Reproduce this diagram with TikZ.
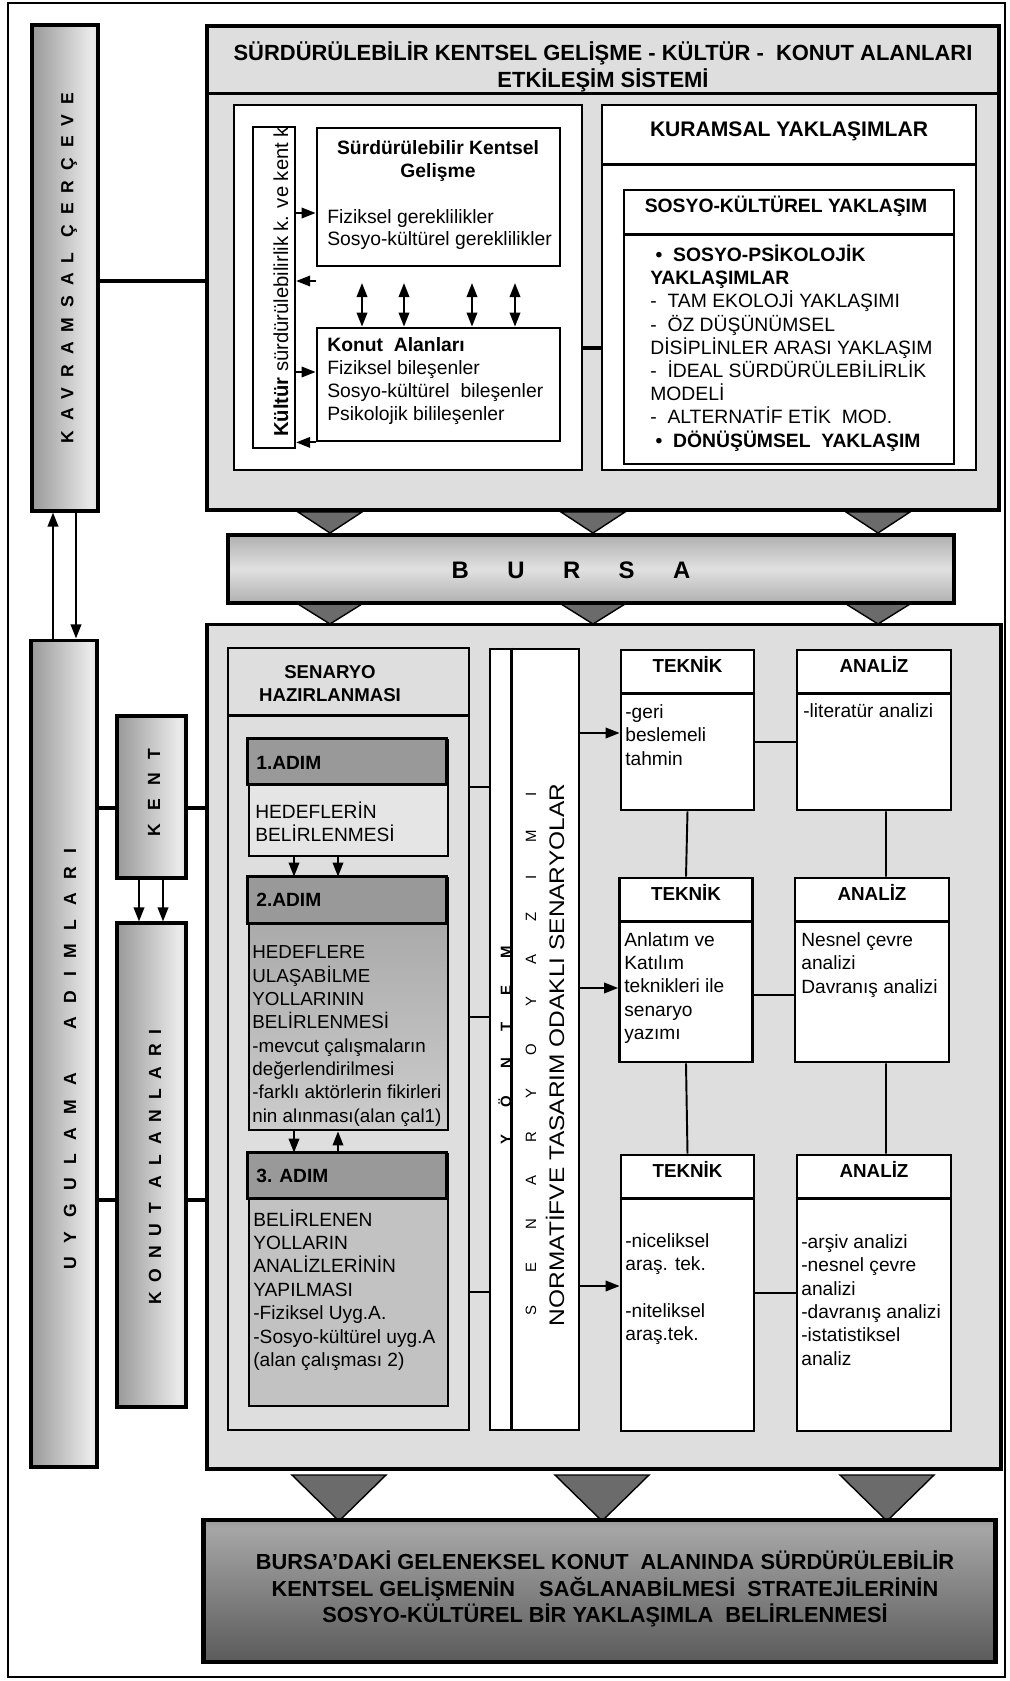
\documentclass[tikz,border=0pt]{standalone}
\usepackage{fontspec}
\setmainfont{Liberation Sans}
\usetikzlibrary{arrows.meta,positioning}

\pgfdeclarehorizontalshading{barshade}{100bp}{color(0bp)=(black!58); color(70bp)=(black!8); color(100bp)=(black!30)}
\pgfdeclareverticalshading{bursashade}{100bp}{color(0bp)=(black!50); color(50bp)=(black!12); color(100bp)=(black!50)}
\pgfdeclareverticalshading{sonucshade}{100bp}{color(0bp)=(black!80); color(72bp)=(black!35); color(100bp)=(black!72)}

\tikzset{
  panel/.style={draw, line width=1.8pt, fill=black!13, inner sep=0pt},
  whitebox/.style={draw, line width=1.6pt, fill=white, inner sep=0pt},
  bar/.style={draw, line width=1.8pt, shading=barshade, shade, inner sep=0pt},
  stepbox/.style={draw, line width=1.6pt, inner sep=0pt},
  divider/.style={draw, line width=1.6pt},
  link/.style={line width=1.1pt},
  tri/.style={draw, line width=0.8pt, fill=black!58},
  txt/.style={inner sep=0pt, align=left, font=\fontsize{10.9}{13.3}\selectfont},
  hdr/.style={inner sep=0pt, font=\fontsize{10.7}{13}\bfseries},
  bartext/.style={inner sep=0pt, rotate=90, font={\fontsize{10}{12}\bfseries\addfontfeatures{LetterSpace=#1}}},
  bartext/.default=57
}

\begin{document}
\begin{tikzpicture}[x=0.02cm, y=-0.02cm, >={Triangle[length=8pt,width=6pt]}]

\useasboundingbox (0,0) rectangle (1009,1681);

% levels of the connectors
\coordinate (kv) at (0,281);
\coordinate (ik) at (0,348);
\coordinate (ka1) at (0,213);
\coordinate (ka2) at (0,281);
\coordinate (ka3) at (0,372);
\coordinate (ku1) at (53,0);
\coordinate (ku2) at (76,0);
\coordinate (uk) at (0,808);
\coordinate (ua) at (0,1200);
\coordinate (kk1) at (139,0);
\coordinate (kk2) at (163,0);
\coordinate (ax1) at (294,0);
\coordinate (ax2) at (338,0);
\coordinate (sy1) at (0,787);
\coordinate (sy2) at (0,1017);
\coordinate (sy3) at (0,1292);
\coordinate (yt1) at (0,733);
\coordinate (yt2) at (0,988);
\coordinate (yt3) at (0,1286);
\coordinate (ta1) at (0,742);
\coordinate (ta2) at (0,995);
\coordinate (ta3) at (0,1293);

\path[draw, line width=0.8pt] (8,3) rectangle (1005,1677);

% kavramsal cerceve
\node[bar, minimum width=1.32cm, minimum height=9.72cm] (kavram) at (65,268) {};
\node[bartext=57] (kavramtxt) at (69,268) {KAVRAMSAL ÇERÇEVE};

\node[panel, minimum width=15.84cm, minimum height=9.68cm] (top) at (603,268) {};
\path[divider, line width=1.8pt] (top.north west) ++(0,69) -- ++(792,0);
\node[inner sep=0pt, align=center, font=\fontsize{12.5}{15.6}\bfseries] (title) at (603,67)
  {SÜRDÜRÜLEBİLİR KENTSEL GELİŞME - KÜLTÜR -\ \ KONUT ALANLARI\\ETKİLEŞİM SİSTEMİ};

\node[whitebox, minimum width=6.96cm, minimum height=7.30cm] (ileft) at (408,287.5) {};
\node[whitebox, line width=1.3pt, minimum width=0.84cm, minimum height=6.42cm] (kultur) at (274,287.5) {};
\node[whitebox, minimum width=4.86cm, minimum height=2.76cm] (skg) at (438.5,197) {};
\node[whitebox, minimum width=4.86cm, minimum height=2.26cm] (konut) at (438.5,384.5) {};

\begin{scope}
  \clip (kultur.south west) rectangle (kultur.north east);
  \node[inner sep=0pt, rotate=90, anchor=base west, font=\fontsize{11.5}{13}\selectfont] (kulturtxt) at (288,437)
    {\textbf{Kültür} sürdürülebilirlik k. ve kent k};
\end{scope}

\node[inner sep=0pt, align=center, font=\fontsize{11}{13}\bfseries] (skgtxt) at (438,161) {Sürdürülebilir Kentsel\\Gelişme};
\node[txt, font=\fontsize{11}{13}\selectfont, anchor=west] (skgreq) at (327,229.5) {Fiziksel gereklilikler\\Sosyo-kültürel gereklilikler};
\node[txt, font=\fontsize{11}{13.2}\selectfont, anchor=west] (konuttxt) at (327,381)
  {\textbf{Konut\ \ Alanları}\\Fiziksel bileşenler\\Sosyo-kültürel\ \ bileşenler\\Psikolojik bilileşenler};

\path[draw, link, ->] (kultur.east |- ka1) -- (skg.west |- ka1);
\path[draw, link, <-] (kultur.east |- ka2) -- (skg.west |- ka2);
\path[draw, link, ->] (kultur.east |- ka3) -- (konut.west |- ka3);
\path[draw, link, <-] (kultur.east |- konut.south west) -- (konut.south west);
\foreach \x in {362,404,472,515} {
  \coordinate (dtop) at (\x,283);
  \path[draw, link, <->] (dtop) -- (dtop |- konut.north);
}

% kuramsal yaklasimlar
\node[whitebox, minimum width=7.48cm, minimum height=7.30cm] (kuram) at (789,287.5) {};
\path[divider] (kuram.north west) ++(0,61) -- ++(374,0);
\node[whitebox, minimum width=6.60cm, minimum height=5.48cm] (sosyo) at (789,327) {};
\path[divider] (sosyo.north west) ++(0,46) -- ++(330,0);
\node[inner sep=0pt, font=\fontsize{12}{14}\bfseries] (kuramtxt) at (789,131) {KURAMSAL YAKLAŞIMLAR};
\node[inner sep=0pt, font=\fontsize{11}{13}\bfseries] (sosyotxt) at (786,206) {SOSYO-KÜLTÜREL YAKLAŞIM};
\node[txt, font=\fontsize{11}{13.2}\selectfont, anchor=west] (yaklasim) at (650,348)
  {\textbf{\ •\ \ SOSYO-PSİKOLOJİK}\\\textbf{YAKLAŞIMLAR}\\-\ \ TAM EKOLOJİ YAKLAŞIMI\\-\ \ ÖZ DÜŞÜNÜMSEL\\DİSİPLİNLER ARASI YAKLAŞIM\\-\ \ İDEAL SÜRDÜRÜLEBİLİRLİK\\MODELİ\\-\ \ ALTERNATİF ETİK\ \ MOD.\\\textbf{\ •\ \ DÖNÜŞÜMSEL\ \ YAKLAŞIM}};

\path[draw, link, line width=1.8pt] (kavram.east |- kv) -- (top.west |- kv);
\path[draw, link, line width=1.8pt] (ileft.east |- ik) -- (kuram.west |- ik);

% bursa
\foreach \x in {330,593,878} {
  \path[tri] (\x-32,512) -- (\x+32,512) -- (\x,533) -- cycle;
  \path[tri] (\x-32,604) -- (\x+32,604) -- (\x,624) -- cycle;
}
\node[draw, line width=1.8pt, shading=bursashade, shade, inner sep=0pt, minimum width=14.52cm, minimum height=1.36cm] (bursa) at (591,569) {};
\node[inner sep=0pt, font={\fontsize{13.6}{16}\bfseries\addfontfeatures{LetterSpace=161}}] (bursatxt) at (571,570) {BURSA};

% uygulama adimlari
\node[bar, minimum width=1.32cm, minimum height=16.54cm] (uyg) at (64,1053.5) {};
\node[bartext=77] (uygtxt) at (70,1059) {UYGULAMA\hspace{25pt}ADIMLARI};
\node[bar, minimum width=1.38cm, minimum height=3.24cm] (kent) at (151.5,797) {};
\node[bartext=76] (kenttxt) at (154,793) {KENT};
\node[bar, minimum width=1.38cm, minimum height=9.68cm] (konutbar) at (151.5,1165) {};
\node[bartext=56] (konutbartxt) at (155,1167) {KONUT ALANLARI};

\path[draw, link, <-] (ku1 |- kavram.south) -- (ku1 |- uyg.north);
\path[draw, link, ->] (ku2 |- kavram.south) -- (ku2 |- uyg.north);
\path[draw, link, ->] (kk1 |- kent.south) -- (kk1 |- konutbar.north);
\path[draw, link, ->] (kk2 |- kent.south) -- (kk2 |- konutbar.north);

\node[panel, minimum width=15.88cm, minimum height=16.90cm] (uygpanel) at (604,1046.5) {};
\path[draw, link, line width=1.8pt] (uyg.east |- uk) -- (kent.west |- uk);
\path[draw, link, line width=1.8pt] (kent.east |- uk) -- (uygpanel.west |- uk);
\path[draw, link, line width=1.8pt] (uyg.east |- ua) -- (konutbar.west |- ua);
\path[draw, link, line width=1.8pt] (konutbar.east |- ua) -- (uygpanel.west |- ua);

% senaryo hazirlanmasi
\node[panel, line width=1.6pt, minimum width=4.82cm, minimum height=15.64cm] (senaryo) at (348.5,1039) {};
\path[divider] (senaryo.north west) ++(0,69) -- ++(241,0);
\node[inner sep=0pt, align=center, font=\fontsize{10.6}{13}\bfseries] (senaryotxt) at (330,683.5) {SENARYO\\HAZIRLANMASI};

\node[stepbox, fill=black!10, minimum width=3.98cm, minimum height=2.32cm] (adim1) at (348.5,798) {};
\path[divider, fill=black!40] (adim1.north west) rectangle ++(199,46);
\node[stepbox, top color=black!36, bottom color=black!20, minimum width=3.98cm, minimum height=5.04cm] (adim2) at (348.5,1004) {};
\path[divider, fill=black!40] (adim2.north west) rectangle ++(199,47);
\node[stepbox, fill=black!24, minimum width=3.98cm, minimum height=5.04cm] (adim3) at (348.5,1280) {};
\path[divider, fill=black!40] (adim3.north west) rectangle ++(199,46);

\node[hdr, font=\fontsize{10.9}{13}\bfseries, anchor=west] (adim1h) at (256,763) {1.ADIM};
\node[hdr, font=\fontsize{10.9}{13}\bfseries, anchor=west] (adim2h) at (256,900) {2.ADIM};
\node[hdr, font=\fontsize{10.9}{13}\bfseries, anchor=west] (adim3h) at (256,1176) {3. ADIM};
\node[txt, anchor=west] (adim1txt) at (255,821.5) {HEDEFLERİN\\BELİRLENMESİ};
\node[txt, font=\fontsize{10.7}{13.3}\selectfont, anchor=west] (adim2txt) at (252,1036)
  {HEDEFLERE\\ULAŞABİLME\\YOLLARININ\\BELİRLENMESİ\\-mevcut çalışmaların\\değerlendirilmesi\\-farklı aktörlerin fikirleri\\nin alınması(alan çal1)};
\node[txt, anchor=west] (adim3txt) at (253,1290)
  {BELİRLENEN\\YOLLARIN\\ANALİZLERİNİN\\YAPILMASI\\-Fiziksel Uyg.A.\\-Sosyo-kültürel uyg.A\\(alan çalışması 2)};

\path[draw, link, ->] (ax1 |- adim1.south) -- (ax1 |- adim2.north);
\path[draw, link, ->] (ax2 |- adim1.south) -- (ax2 |- adim2.north);
\path[draw, link, ->] (ax1 |- adim2.south) -- (ax1 |- adim3.north);
\path[draw, link, <-] (ax2 |- adim2.south) -- (ax2 |- adim3.north);

% senaryo yazimi
\node[whitebox, minimum width=1.78cm, minimum height=15.62cm] (yontem) at (534.5,1039.5) {};
\path[divider] (yontem.north west) ++(23,0) -- ++(0,781);
\node[inner sep=0pt, rotate=90, anchor=base, font={\fontsize{8.5}{10}\bfseries\addfontfeatures{LetterSpace=180}}] (yontemtxt) at (511,1045) {YÖNTEM};
\node[inner sep=0pt, rotate=90, anchor=base, font={\fontsize{8.5}{10}\selectfont\addfontfeatures{LetterSpace=222}}] (yazimtxt) at (536,1054) {SENARYO YAZIMI};
\node[inner sep=0pt, rotate=90, anchor=base, font={\fontsize{12}{14}\selectfont\addfontfeatures{FakeStretch=1.16}}] (normtxt) at (564,1055) {NORMATİFVE TASARIM ODAKLI SENARYOLAR};

\foreach \n in {sy1,sy2,sy3}
  \path[draw, link] (senaryo.east |- \n) -- (yontem.west |- \n);

% teknik ve analiz
\node[whitebox, minimum width=2.66cm, minimum height=3.20cm] (tek1) at (687.5,730) {};
\node[whitebox, minimum width=3.08cm, minimum height=3.20cm] (an1) at (874,730) {};
\node[whitebox, minimum width=2.66cm, minimum height=3.68cm] (tek2) at (686,970) {};
\node[whitebox, minimum width=3.08cm, minimum height=3.68cm] (an2) at (872,970) {};
\node[whitebox, minimum width=2.66cm, minimum height=5.52cm] (tek3) at (687.5,1293) {};
\node[whitebox, minimum width=3.08cm, minimum height=5.52cm] (an3) at (874,1293) {};

\foreach \n/\t in {tek1/TEKNİK, an1/ANALİZ, tek2/TEKNİK, an2/ANALİZ, tek3/TEKNİK, an3/ANALİZ} {
  \path[divider] ([yshift=-0.9cm]\n.north west) -- ([yshift=-0.9cm]\n.north east);
  \node[hdr] (\n-h) at ([yshift=-0.32cm]\n.north) {\t};
}

\node[txt, anchor=west] (tek1txt) at (625,735) {-geri\\beslemeli\\tahmin};
\node[txt, anchor=west] (an1txt) at (803,711) {-literatür analizi};
\node[txt, anchor=west] (tek2txt) at (624,988) {Anlatım ve\\Katılım\\teknikleri ile\\senaryo\\yazımı};
\node[txt, anchor=west] (an2txt) at (801,965) {Nesnel çevre\\analizi\\Davranış analizi};
\node[txt, anchor=west] (tek3txt) at (625,1289) {-niceliksel\\araş. tek.\\[13.3pt]-niteliksel\\araş.tek.};
\node[txt, anchor=west] (an3txt) at (801,1300) {-arşiv analizi\\-nesnel çevre\\analizi\\-davranış analizi\\-istatistiksel\\analiz};

\path[draw, link, ->] (yontem.east |- yt1) -- (tek1.west |- yt1);
\path[draw, link, ->] (yontem.east |- yt2) -- (tek2.west |- yt2);
\path[draw, link, ->] (yontem.east |- yt3) -- (tek3.west |- yt3);
\path[draw, link] (tek1.east |- ta1) -- (an1.west |- ta1);
\path[draw, link] (tek2.east |- ta2) -- (an2.west |- ta2);
\path[draw, link] (tek3.east |- ta3) -- (an3.west |- ta3);
\path[draw, link] (tek1.south) -- (tek2.north);
\path[draw, link] (tek2.south) -- (tek3.north);
\path[draw, link] ([xshift=0.24cm]an1.south) -- ([xshift=0.28cm]an2.north);
\path[draw, link] ([xshift=0.28cm]an2.south) -- ([xshift=0.24cm]an3.north);

% sonuc
\foreach \x in {339,602,887}
  \path[tri] (\x-47,1475) -- (\x+47,1475) -- (\x,1521) -- cycle;
\node[draw, line width=2.8pt, shading=sonucshade, shade, inner sep=0pt, minimum width=15.86cm, minimum height=2.84cm] (sonuc) at (599.5,1591) {};
\node[inner sep=0pt, align=center, font=\fontsize{12.4}{15}\bfseries] (sonuctxt) at (605,1589)
  {BURSA’DAKİ GELENEKSEL KONUT\ \ ALANINDA SÜRDÜRÜLEBİLİR\\KENTSEL GELİŞMENİN\ \ \ \ SAĞLANABİLMESİ\ \ STRATEJİLERİNİN\\SOSYO-KÜLTÜREL BİR YAKLAŞIMLA\ \ BELİRLENMESİ};

\end{tikzpicture}
\end{document}
